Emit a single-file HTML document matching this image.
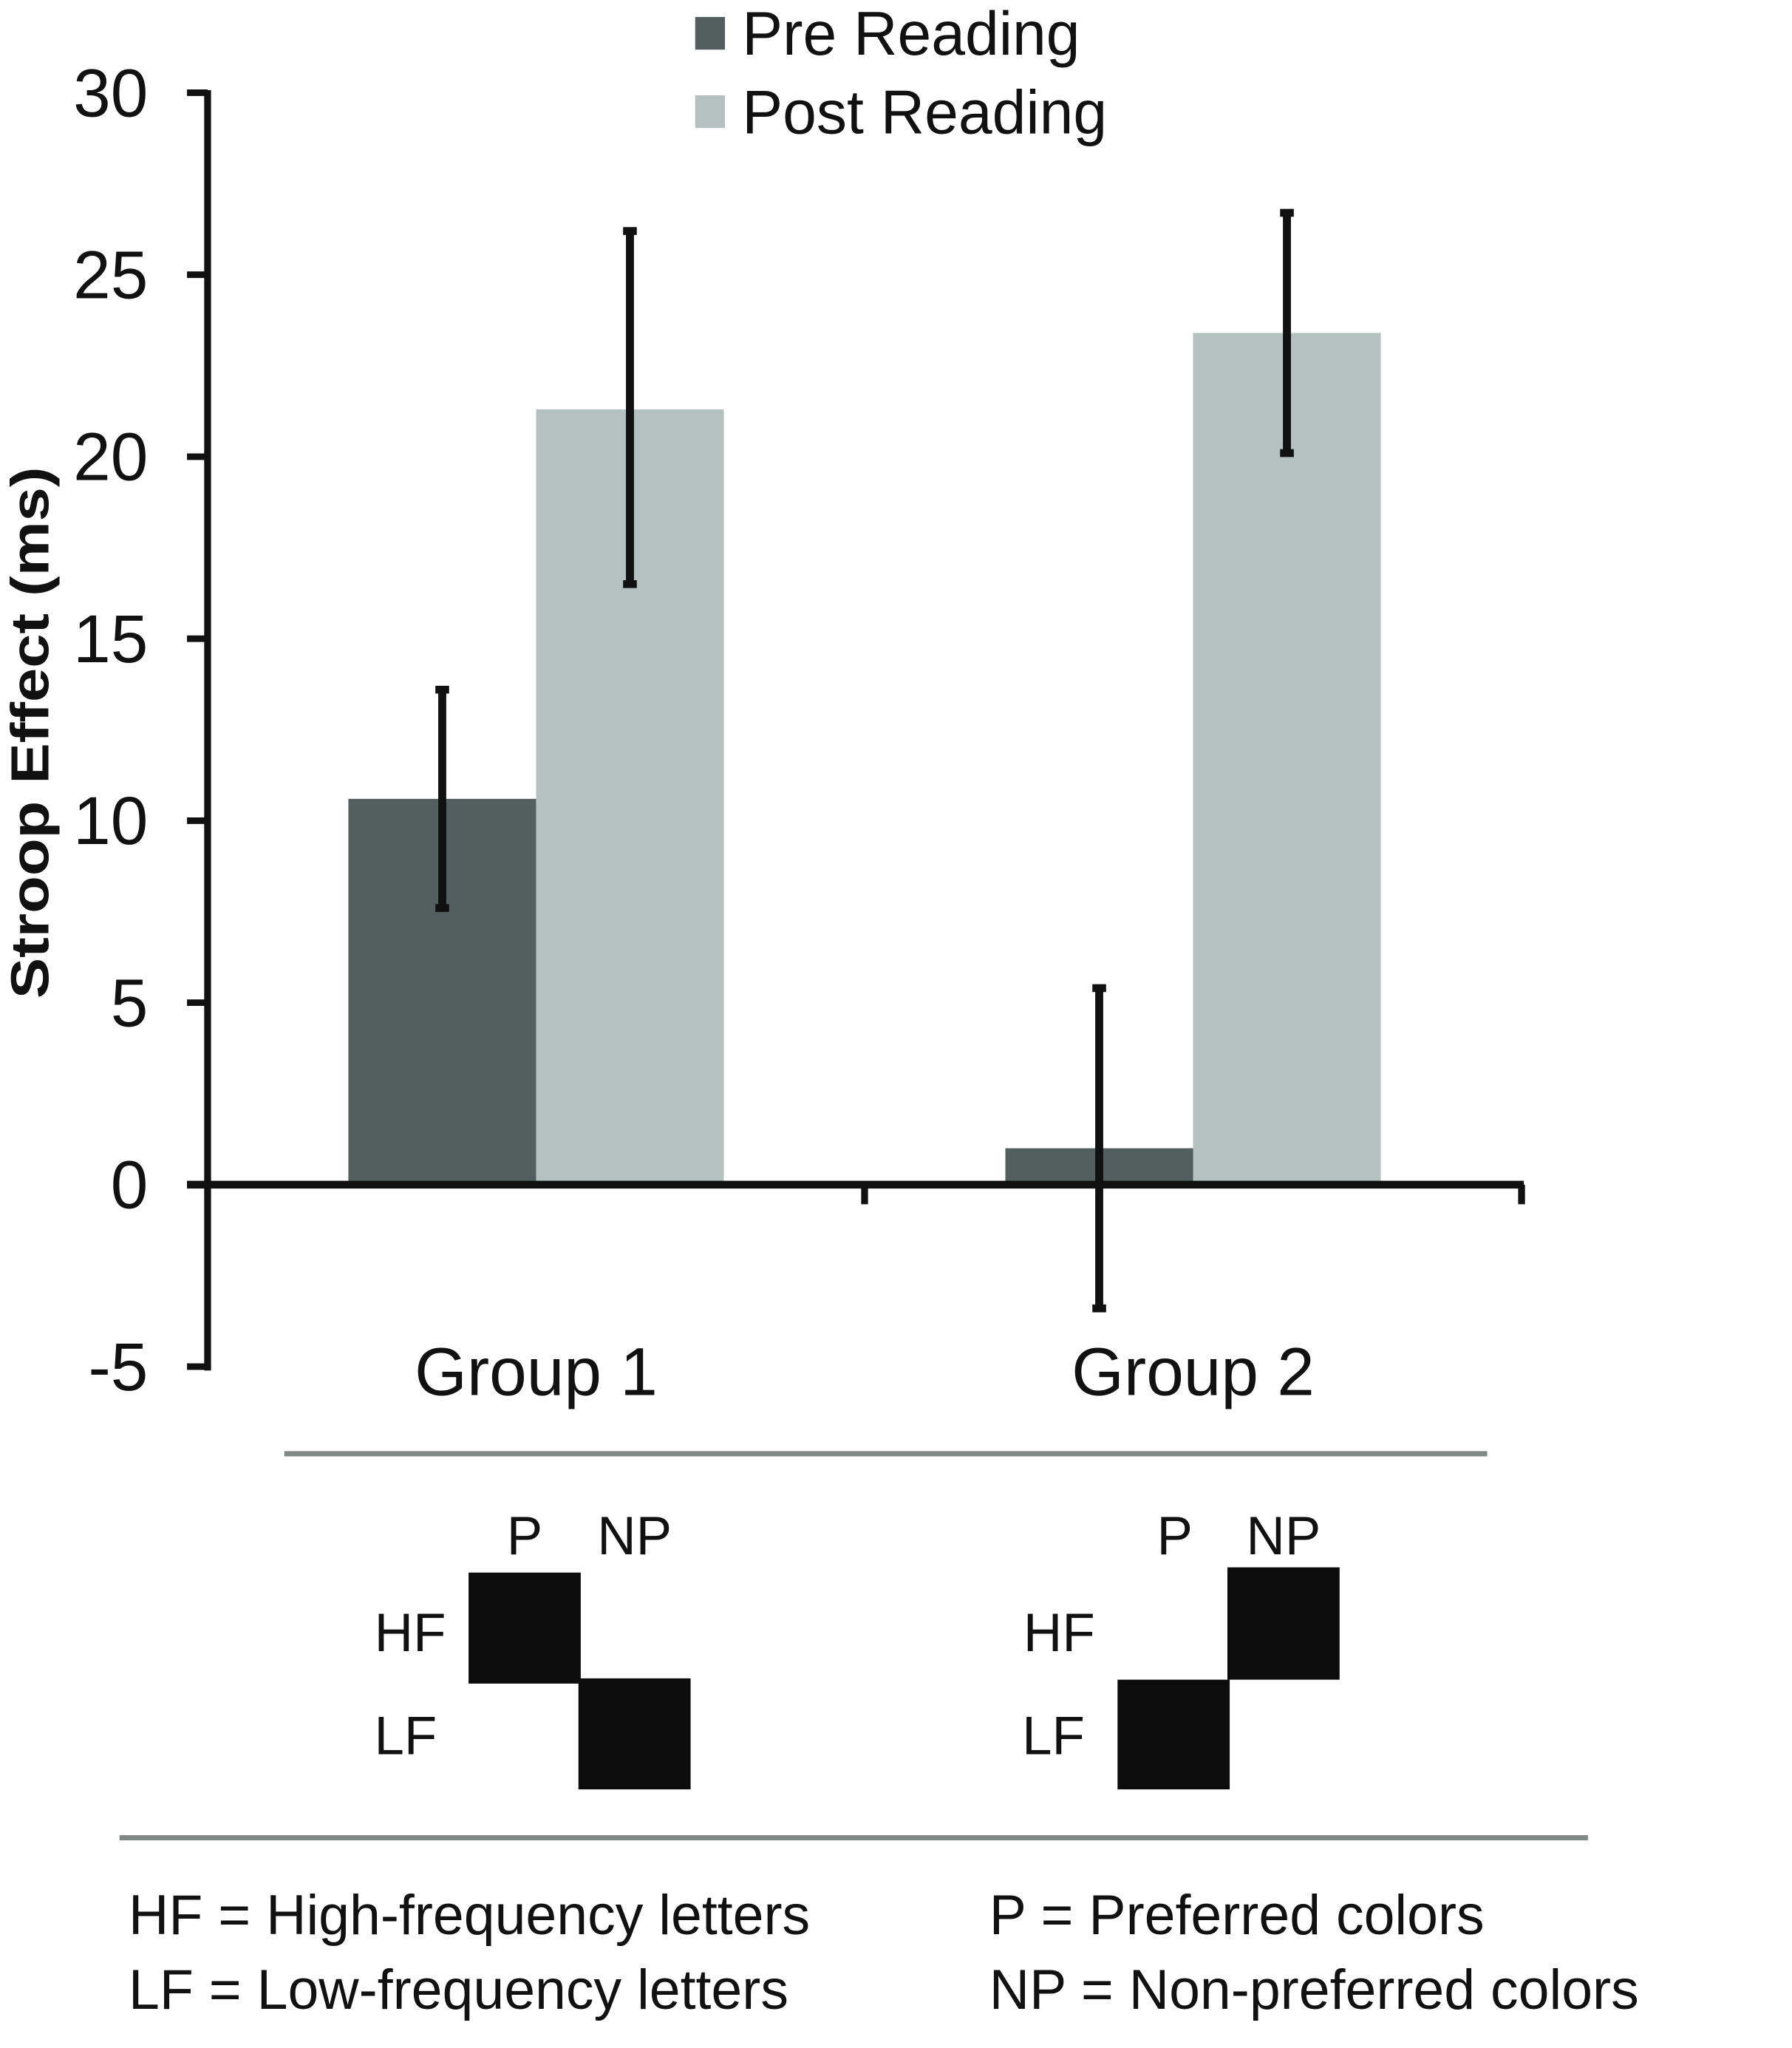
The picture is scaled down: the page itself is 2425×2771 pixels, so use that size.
<!DOCTYPE html>
<html><head><meta charset="utf-8"><style>
html,body{margin:0;padding:0;background:#fff;}
svg{display:block;font-family:"Liberation Sans",Arial,sans-serif;}
</style></head><body>
<svg id="chart" width="2425" height="2771" viewBox="0 0 1550 1568" preserveAspectRatio="none" xmlns="http://www.w3.org/2000/svg">
<g transform="translate(-1.6,0) scale(0.99,1)">
<g id="legend">
<rect x="609" y="13" width="26" height="25" fill="#525f5e"/>
<text x="650" y="42" font-size="47" fill="#111">Pre Reading</text>
<rect x="609" y="73" width="26" height="25" fill="#b5c1bf"/>
<text x="650" y="102" font-size="47" fill="#111">Post Reading</text>
</g>
<text class="norot" transform="translate(44,561) rotate(-90)" text-anchor="middle" font-size="47" font-weight="bold" fill="#111">Stroop Effect (ms)</text>
<g id="plot"></g>
<line x1="250" y1="1113" x2="1301" y2="1113" stroke="#7f8787" stroke-width="4"/>
<line x1="106" y1="1407" x2="1389" y2="1407" stroke="#7f8787" stroke-width="4"/>
<g font-size="41.5" fill="#111">
<text x="460" y="1190" text-anchor="middle">P</text>
<text x="556" y="1190" text-anchor="middle">NP</text>
<text x="360" y="1264" text-anchor="middle">HF</text>
<text x="356" y="1343" text-anchor="middle">LF</text>
<rect x="411" y="1204" width="98" height="85" fill="#0b0c0b"/>
<rect x="507" y="1285" width="98" height="85" fill="#0b0c0b"/>
</g>
<g font-size="41.5" fill="#111">
<text x="1028" y="1190" text-anchor="middle">P</text>
<text x="1123" y="1190" text-anchor="middle">NP</text>
<text x="927" y="1264" text-anchor="middle">HF</text>
<text x="922" y="1343" text-anchor="middle">LF</text>
<rect x="1074" y="1200" width="98" height="86" fill="#0b0c0b"/>
<rect x="978" y="1286" width="98" height="84" fill="#0b0c0b"/>
</g>
<g font-size="43" fill="#111">
<text x="114" y="1481">HF = High-frequency letters</text>
<text x="114" y="1538">LF = Low-frequency letters</text>
<text x="866" y="1481">P = Preferred colors</text>
<text x="866" y="1538">NP = Non-preferred colors</text>
</g>
</g>
</svg>
<script>
const categories = ["Group 1","Group 2"];
const preValues = [10.6, 1.0];
const postValues = [21.3, 23.4];
const preLow = [7.6, -3.4];
const preHigh = [13.6, 5.4];
const postLow = [16.5, 20.1];
const postHigh = [26.2, 26.7];
const yTicks = [-5,0,5,10,15,20,25,30];

const NS="http://www.w3.org/2000/svg";
const g=document.getElementById('plot');
const y0=907, pxPerUnit=(907-71)/30;
function yScale(v){return y0 - v*pxPerUnit;}
const axisX=183, groupW=574;
function groupLeft(i){return axisX+i*groupW;}
function mk(tag,attrs){const e=document.createElementNS(NS,tag);for(const k in attrs)e.setAttribute(k,attrs[k]);g.appendChild(e);return e;}

yTicks.forEach(t=>{
  const l=mk('line',{x1:axisX-18,x2:axisX,y1:yScale(t),y2:yScale(t),stroke:'#111','stroke-width':5});
  
  
  const tx=mk('text',{x:131,y:yScale(t)+18,'text-anchor':'end','font-size':52,fill:'#111'});
  tx.textContent=t;
  
  
});

const barW=164;
categories.forEach((c,i)=>{
  const left=groupLeft(i)+123;
  const series=[[preValues[i],'#525f5e','pre'],[postValues[i],'#b5c1bf','post']];
  series.forEach((s,j)=>{
    const x=left+j*barW;
    const top=Math.min(yScale(s[0]),y0), h=Math.abs(yScale(s[0])-y0);
    const r=mk('rect',{x:x,y:top,width:barW,height:h,fill:s[1]});
    
    
  });
  const lbl=mk('text',{x:left+barW,y:1068,'text-anchor':'middle','font-size':52,fill:'#111'});
  lbl.textContent=c;
  
  
});

const ya=mk('line',{x1:axisX,x2:axisX,y1:69,y2:yScale(-5)+3,stroke:'#111','stroke-width':6});


const xa=mk('line',{x1:165,x2:1333,y1:y0,y2:y0,stroke:'#111','stroke-width':6});


[757,1331].forEach(x=>{
  const t=mk('line',{x1:x,x2:x,y1:y0,y2:y0+15,stroke:'#111','stroke-width':6});
  
  
});

categories.forEach((c,i)=>{
  const left=groupLeft(i)+123;
  [[preLow[i],preHigh[i],'pre'],[postLow[i],postHigh[i],'post']].forEach((s,j)=>{
    const cx=left+j*barW+barW/2;
    const e=mk('line',{x1:cx,x2:cx,y1:yScale(s[1]),y2:yScale(s[0]),stroke:'#111','stroke-width':7});
    
    
    [s[0],s[1]].forEach(v=>{
      const cap=mk('line',{x1:cx-6,x2:cx+6,y1:yScale(v),y2:yScale(v),stroke:'#111','stroke-width':6});
      
      
    });
  });
});

// compensate for non-uniform viewBox scaling so glyphs keep natural proportions
document.querySelectorAll('#chart text').forEach(t=>{
  if(t.classList.contains('norot')) return;
  const x=parseFloat(t.getAttribute('x')), y=parseFloat(t.getAttribute('y'));
  t.setAttribute('transform','translate('+x+','+y+') scale(1.13,1) translate('+(-x)+','+(-y)+')');
});
</script>
</body></html>
